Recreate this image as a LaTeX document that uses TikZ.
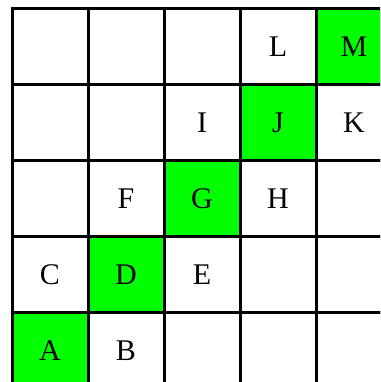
\documentclass[tikz,border=0pt]{standalone}
\usepackage{fontspec}
\setmainfont{Liberation Serif}
\usetikzlibrary{positioning}
\definecolor{cellgreen}{HTML}{00FF00}

\begin{document}
\begin{tikzpicture}[x=1pt, y=1pt,
    cell/.style={draw, line width=3pt, minimum size=76pt, inner sep=0pt, font=\fontsize{30}{30}\selectfont},
    hit/.style={cell, fill=cellgreen}]
  \useasboundingbox (0,0) rectangle (380,382);
  \clip (0,0) rectangle (380,382);
  % row/column/label/style, row 1 at the top
  \foreach \r/\c/\txt/\sty in {1/1//cell, 1/2//cell, 1/3//cell, 1/4/L/cell, 1/5/M/hit,
      2/1//cell, 2/2//cell, 2/3/I/cell, 2/4/J/hit, 2/5/K/cell,
      3/1//cell, 3/2/F/cell, 3/3/G/hit, 3/4/H/cell, 3/5//cell,
      4/1/C/cell, 4/2/D/hit, 4/3/E/cell, 4/4//cell, 4/5//cell,
      5/1/A/hit, 5/2/B/cell, 5/3//cell, 5/4//cell, 5/5//cell}
    \node[\sty] (cell\r\c) at ({12+76*(\c-0.5)}, {373-76*(\r-0.5)}) {\txt};
\end{tikzpicture}
\end{document}
